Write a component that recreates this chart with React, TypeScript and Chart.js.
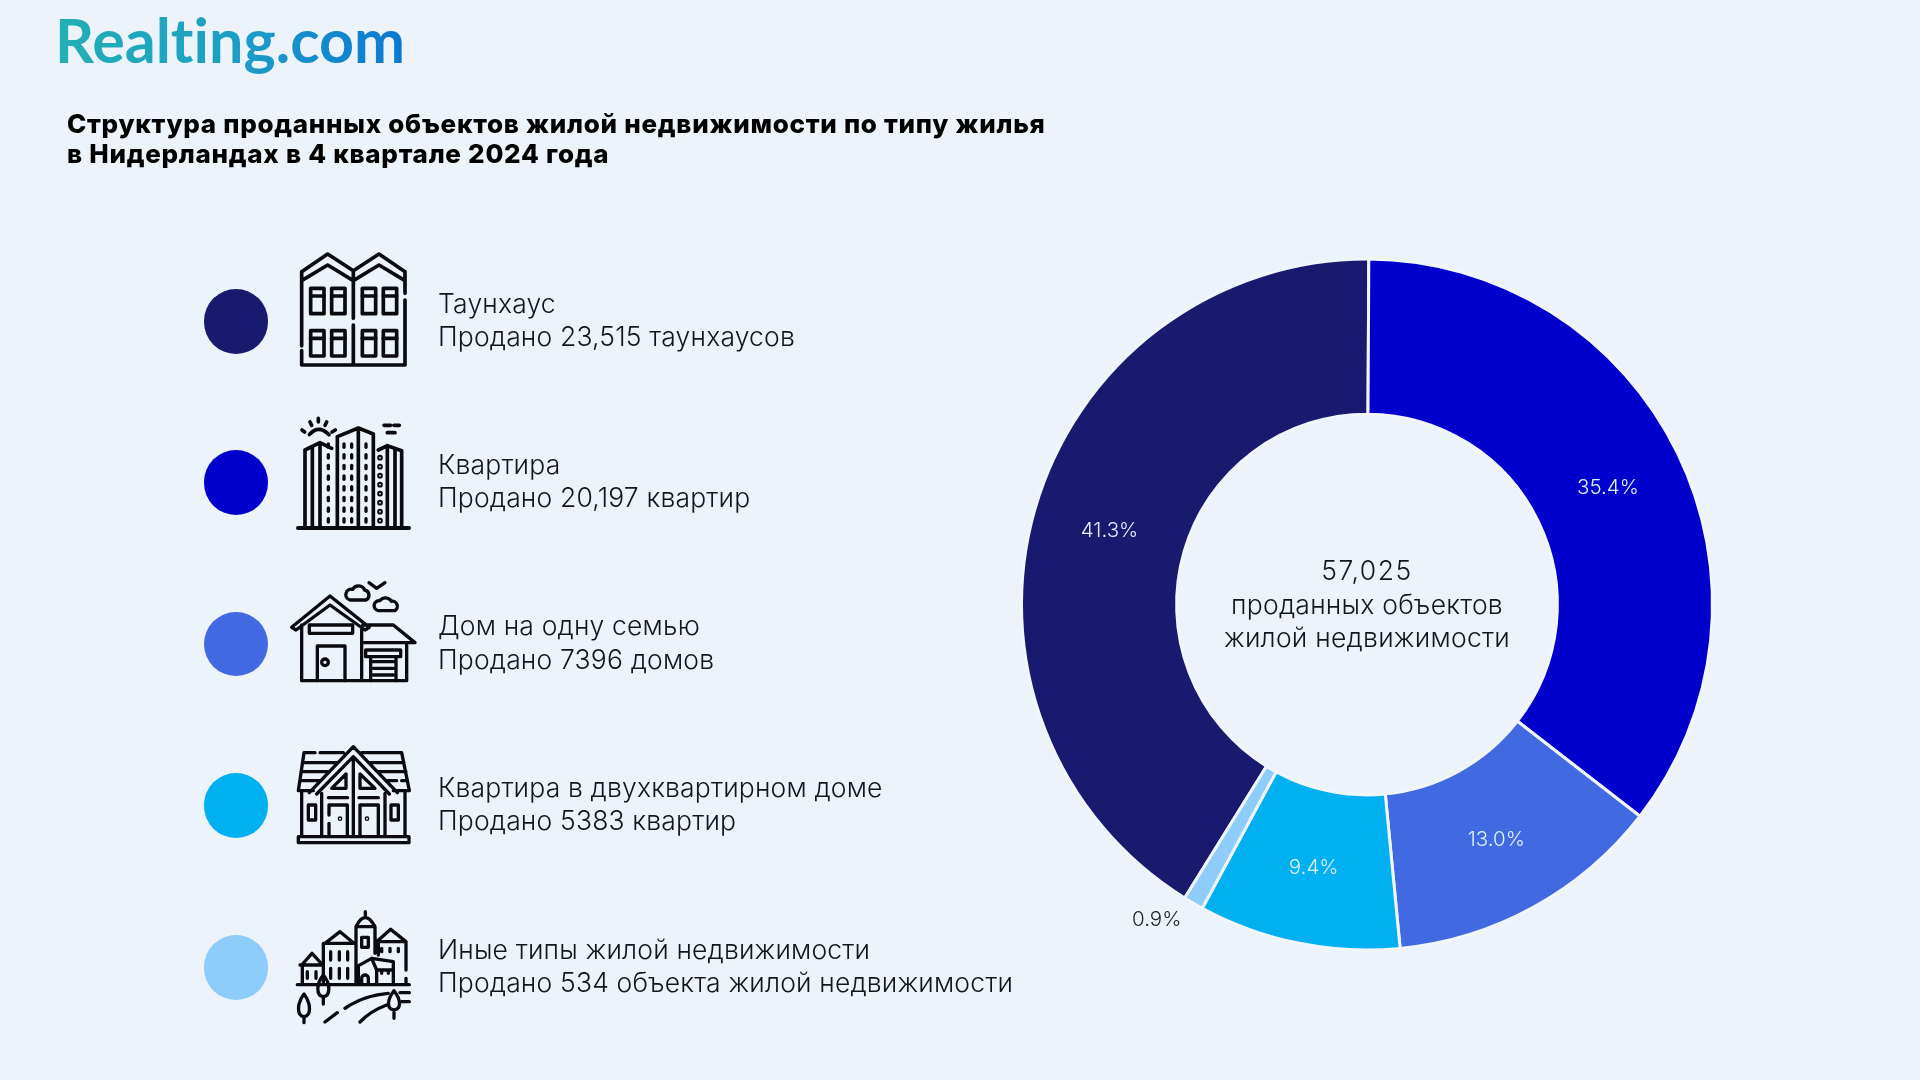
import React, { useEffect, useRef } from "react";
import { Chart, registerables } from "chart.js";

Chart.register(...registerables);

const categories = ["Таунхаус", "Квартира", "Дом на одну семью", "Квартира в двухквартирном доме", "Иные типы жилой недвижимости"];
const details = ["Продано 23,515 таунхаусов", "Продано 20,197 квартир", "Продано 7396 домов", "Продано 5383 квартир", "Продано 534 объекта жилой недвижимости"];
const soldCounts = [23515, 20197, 7396, 5383, 534];
const shareLabels = ["41.3%", "35.4%", "13.0%", "9.4%", "0.9%"];
const colors = ["#191970", "#0000CD", "#4169E1", "#00B0F0", "#8ECDFB"];
const titleLines = ["Структура проданных объектов жилой недвижимости по типу жилья", "в Нидерландах в 4 квартале 2024 года"];
const centerLines = ["57,025", "проданных объектов", "жилой недвижимости"];

const BG = "#EDF3FB";
const FONT = "Inter, 'Noto Sans', sans-serif";
const rowCenters = [321, 482, 643.5, 805, 967];

const labelPlugin = {
  id: "shareLabels",
  afterDatasetsDraw(chart: any) {
    const ctx = chart.ctx;
    const meta = chart.getDatasetMeta(0);
    ctx.save();
    ctx.font = `300 20.5px ${FONT}`;
    ctx.textBaseline = "middle";
    meta.data.forEach((arc: any, i: number) => {
      const span = arc.endAngle - arc.startAngle;
      if (span < 0.15) {
        const mid = (arc.startAngle + arc.endAngle) / 2;
        ctx.fillStyle = "#222233";
        ctx.textAlign = "right";
        ctx.fillText(shareLabels[i], arc.x + Math.cos(mid) * arc.outerRadius - 12, arc.y + Math.sin(mid) * arc.outerRadius + 17);
      } else {
        const p = arc.getCenterPoint();
        ctx.fillStyle = "#dff1fb";
        ctx.textAlign = "center";
        ctx.fillText(shareLabels[i], p.x, p.y + 1);
      }
    });
    ctx.restore();
  },
};

const ink = { fill: "none", stroke: "#0b0b0f", strokeLinecap: "round" as const, strokeLinejoin: "round" as const };

function IconsTop() {
  const win = [392, 455, 547, 610];
  const wy = [145, 272];
  const col = [445, 492, 515, 558];
  const dashes = [612, 644, 676, 708, 740, 772, 804, 836];
  return (
    <svg style={{ position: "absolute", left: 180, top: 240 }} width={300} height={300} viewBox="0 0 900 900">
      <g {...ink} strokeWidth={11}>
        <path d="M365 95L443 42L520 92L597 42L675 95M365 122L443 75L520 122L597 75L675 122M365 95V318M365 332V375H675V180M675 95V160M520 92V235M520 255V375" />
        {wy.map((y) => win.map((x) => (
          <g key={`${x}-${y}`}>
            <rect x={x} y={y} width={40} height={76} />
            <path d={`M${x} ${y + 23}H${x + 40}`} />
          </g>
        )))}
        <path d="M354 864H687" strokeWidth={12} />
        <path d="M472 590L535 564L580 582V864M472 590V864M535 564V864M375 630L420 608L455 625M375 630V864M397 622V864M420 610V864M595 630L622 617L665 632V864M645 625V864M622 617V864" />
        <path d="M388 584Q415 552 447 584M366 570L374 576M390 546L395 556M415 535V546M440 546L435 556M466 570L456 576M612 556H632M642 556H658M622 578H645" />
        {col.map((x) => dashes.map((y) => (
          <path key={`${x}-${y}`} d={`M${x} ${y}v10`} strokeWidth={10} />
        )))}
        {[653, 680, 707, 734, 761, 788, 815, 842].map((y) => (
          <circle key={y} cx={600} cy={y} r={3} />
        ))}
      </g>
    </svg>
  );
}

function IconsBottom() {
  return (
    <svg style={{ position: "absolute", left: 180, top: 570 }} width={300} height={470} viewBox="0 0 900 1410">
      <g {...ink} strokeWidth={10}>
        <path d="M335 172L450 78L568 172L555 180L450 105L348 180ZM365 165V332H680V218M545 180V332M548 165H640L705 218H545" />
        <rect x={388} y={165} width={130} height={25} />
        <path d="M412 332V228H495V332" />
        <circle cx={435} cy={277} r={10} />
        <rect x={557} y={240} width={105} height={20} />
        <path d="M572 260V332M648 260V332M580 275H640M580 295H640M580 315H640" />
        <path d="M510 90a16 16 0 0 1 8-32a20 20 0 0 1 36 2a16 16 0 0 1 4 30ZM595 122a15 15 0 0 1 5-30a20 20 0 0 1 34 2a15 15 0 0 1 10 28ZM567 38L590 55L615 38" />

        <path d="M355 662L372 548H405M420 548H490M545 548H665L688 662H640M355 662H400M388 668L520 530L652 668M410 672L520 560L628 672M375 578H470M570 578H672M365 605H445M595 605H678M360 632H420M620 632H650M665 632H680M520 560V795" />
        <path d="M455 655L498 612V655ZM540 612L585 655H540Z" />
        <path d="M365 665V795M675 665V795M425 670V795M615 670V795M445 683H503M537 683H595M447 795V760M447 735V705H502V795M540 795V705H595V795" />
        <rect x={385} y={705} width={22} height={45} />
        <rect x={633} y={705} width={22} height={45} />
        <rect x={355} y={800} width={332} height={18} />
        <circle cx={480} cy={746} r={2} /><circle cx={561} cy={746} r={2} />

        <path d="M352 1244H688M365 1185L396 1150L428 1185H360M367 1185V1240M430 1244V1120H525M435 1120L480 1085L520 1118M528 1244V1070H585V1150M528 1070Q555 1015 585 1070M556 1025V1040M590 1115L632 1078L678 1115ZM678 1115V1200M678 1225V1244M595 1115V1155M530 1190L575 1165L640 1175V1244M590 1200H640M535 1190V1244M575 1165L590 1200V1244" />
        <rect x={545} y={1102} width={20} height={30} />
        <path d="M452 1145V1170M478 1145V1170M503 1145V1170M452 1195V1225M478 1195V1225M503 1195V1225M382 1205V1225M408 1205V1225M605 1135V1145M630 1135V1145M655 1135V1145M605 1205V1210M625 1205V1210M545 1240V1225a10 10 0 0 1 20 0V1240" />
        <path d="M430 1215C408 1240 408 1278 430 1280C452 1278 452 1240 430 1215ZM430 1280V1302M372 1272C350 1300 350 1338 372 1340C394 1338 394 1300 372 1272ZM372 1340V1358M642 1262C620 1290 620 1318 642 1320C664 1318 664 1290 642 1262ZM642 1320V1345" />
        <path d="M435 1356L472 1328M495 1315C530 1290 570 1275 625 1270M660 1268H688M540 1356C560 1335 585 1318 620 1305M665 1295H688" />
      </g>
    </svg>
  );
}

export default function App() {
  const ref = useRef<HTMLCanvasElement>(null);
  useEffect(() => {
    const total = soldCounts.reduce((a, b) => a + b, 0);
    const chart = new Chart(ref.current!, {
      type: "doughnut",
      data: {
        labels: categories,
        datasets: [{
          data: soldCounts,
          backgroundColor: colors,
          borderColor: "#F1F6FC",
          borderWidth: 3,
          hoverOffset: 0,
        }],
      },
      options: {
        responsive: false,
        animation: false,
        cutout: "55.1%",
        rotation: -(soldCounts[0] / total) * 360 + 0.3,
        layout: { padding: { left: 1020, right: 206, top: 257.5, bottom: 128.5 } },
        plugins: { legend: { display: false }, tooltip: { enabled: false }, title: { display: false } },
      },
      plugins: [labelPlugin],
    });
    return () => chart.destroy();
  }, []);

  return (
    <div style={{ position: "absolute", left: 0, top: 0, width: 1920, height: 1080, background: BG, overflow: "hidden", fontFamily: FONT, color: "#15151f" }}>
      <style>{`html,body{margin:0;background:${BG}}`}</style>
      <canvas ref={ref} width={1920} height={1080} style={{ position: "absolute", left: 0, top: 0, display: "block" }} />

      <div style={{
        position: "absolute", left: 55, top: 2, fontSize: 61, fontWeight: 700, lineHeight: "76px", fontFamily: "Lato, 'Open Sans', sans-serif",
        fontVariantLigatures: "none",
        background: "linear-gradient(90deg,#23B0B4 0%,#1C9CC8 55%,#0A78D2 100%)",
        WebkitBackgroundClip: "text", backgroundClip: "text", color: "transparent",
      }}>Realting.com</div>

      <div style={{ position: "absolute", left: 67, top: 109, fontSize: 26, fontWeight: 800, letterSpacing: 0.72, lineHeight: "29.5px", color: "#000", whiteSpace: "nowrap" }}>
        {titleLines.map((l) => <div key={l}>{l}</div>)}
      </div>

      {categories.map((c, i) => (
        <React.Fragment key={c}>
          <div style={{ position: "absolute", left: 203.5, top: rowCenters[i] - 32, width: 64.5, height: 64.5, borderRadius: "50%", background: colors[i] }} />
          <div style={{ position: "absolute", left: 438, top: rowCenters[i] - 34.5, fontSize: 26.5, letterSpacing: 0.17, lineHeight: "33.5px", fontWeight: 300, whiteSpace: "nowrap" }}>
            <div>{c}</div>
            <div>{details[i]}</div>
          </div>
        </React.Fragment>
      ))}

      <IconsTop />
      <IconsBottom />

      <div style={{ position: "absolute", left: 1167, width: 400, top: 554, textAlign: "center", fontSize: 26.5, letterSpacing: 0.25, lineHeight: "33.7px", fontWeight: 300 }}>
        {centerLines.map((l, i) => <div key={l} style={i === 0 ? { letterSpacing: 1.5 } : undefined}>{l}</div>)}
      </div>
    </div>
  );
}
